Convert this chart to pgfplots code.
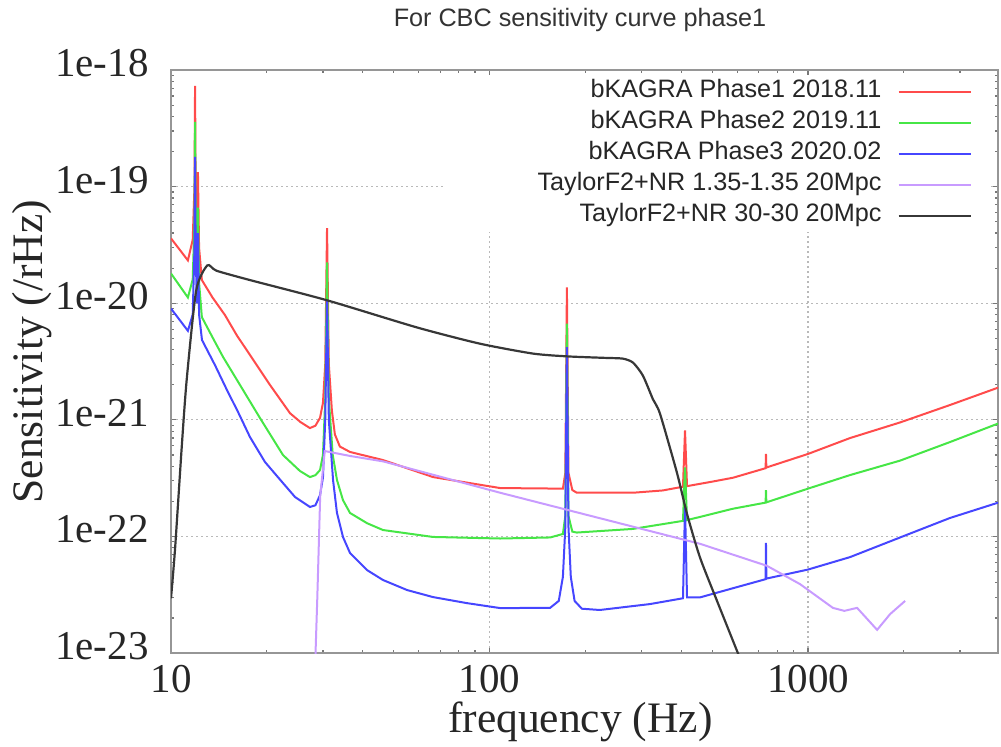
\documentclass[border=0pt]{standalone}
\usepackage{fontspec}
\setmainfont{Liberation Serif}
\newfontfamily\lsans{Liberation Sans}
\usepackage{pgfplots}
\pgfplotsset{compat=1.18}
\definecolor{cred}{RGB}{255,75,75}
\definecolor{cgreen}{RGB}{70,230,70}
\definecolor{cblue}{RGB}{70,70,255}
\definecolor{cpurple}{RGB}{200,155,255}
\definecolor{cblack}{RGB}{55,55,55}
\definecolor{cframe}{RGB}{150,150,150}
\begin{document}
\begin{tikzpicture}
\useasboundingbox (0,0) rectangle (500.5pt,373pt);
\begin{axis}[
  at={(85.5pt,46.5pt)}, anchor=south west,
  scale only axis, width=413.5pt, height=291.5pt,
  xmode=log, ymode=log,
  xmin=10, xmax=3950, ymin=1e-23, ymax=1e-18,
  xtick={10,100,1000}, xticklabels={10,100,1000},
  ytick={1e-23,1e-22,1e-21,1e-20,1e-19,1e-18},
  yticklabels={1e-23,1e-22,1e-21,1e-20,1e-19,1e-18},
  minor xtick={20,30,40,50,60,70,80,90,200,300,400,500,600,700,800,900,2000,3000},
  minor ytick={2e-23,3e-23,4e-23,5e-23,6e-23,7e-23,8e-23,9e-23,
               2e-22,3e-22,4e-22,5e-22,6e-22,7e-22,8e-22,9e-22,
               2e-21,3e-21,4e-21,5e-21,6e-21,7e-21,8e-21,9e-21,
               2e-20,3e-20,4e-20,5e-20,6e-20,7e-20,8e-20,9e-20,
               2e-19,3e-19,4e-19,5e-19,6e-19,7e-19,8e-19,9e-19},
  tick align=inside, major tick length=2.5pt, minor tick length=1.5pt,
  every tick/.style={cframe!80!black, line width=0.6pt},
  axis line style={cframe, line width=1.4pt},
  grid=major,
  major grid style={gray!55, dash pattern=on 1pt off 1.5pt, line width=0.6pt},
  tick label style={font=\fontsize{20.5}{24}\selectfont, text=black!85},
  yticklabel style={inner sep=0pt, xshift=-11pt, yshift=3.5pt},
  xticklabel style={inner sep=0pt, yshift=-5.75pt},
  xlabel={frequency (Hz)},
  ylabel={Sensitivity (/rHz)},
  xlabel style={at={(axis description cs:0.495,-0.118)}, anchor=center, font=\fontsize{21.75}{26}\selectfont, text=black!85},
  ylabel style={at={(axis description cs:-0.168,0.517)}, anchor=center, font=\fontsize{21.75}{26}\selectfont, text=black!85},
  title={For CBC sensitivity curve phase1},
  every axis title shift=0pt,
  every axis title/.style={at={(axis description cs:0.4946,1.0858)}, anchor=center, font=\lsans\fontsize{12.6}{15}\selectfont, text=black!80},
  legend plot pos=right,
  legend cell align=right,
  legend image code/.code={\draw[#1] (0pt,0pt) -- (36pt,0pt);},
  legend style={at={(rel axis cs:0.9686,0.989)}, anchor=north east,
    draw=none, fill=none, inner sep=0pt,
    font=\lsans\fontsize{12.6}{15}\selectfont, text=black!85,
    row sep=0pt, column sep=6pt,
    nodes={inner xsep=2pt, inner ysep=0pt, text height=10.5pt, text depth=5pt}},
]
\fill[white] (rel axis cs:0.331,0.722) rectangle (rel axis cs:0.992,0.99);

% bKAGRA Phase1
\addplot[cred, line width=1pt] coordinates {
(10,3.6e-20) (11.3,2.33e-20) (11.7,3.5e-20) (11.85,1e-19) (11.9,7.3e-19) (11.95,1e-19)
(12.05,4e-20) (12.15,1.33e-19) (12.25,3e-20) (12.5,1.58e-20) (13.5,1.12e-20) (14.77,7.92e-21)
(16.1,5.3e-21) (17.7,3.6e-21) (20.46,1.99e-21) (23.64,1.14e-21) (25.5,9.57e-22) (27.3,8.5e-22)
(28.4,8.9e-22) (29.37,1.04e-21) (30.0,1.4e-21) (30.5,3e-21) (30.9,4.4e-20) (31.3,3e-21)
(32.0,1.2e-21) (32.7,7.5e-22) (33.9,5.9e-22) (36.5,5.3e-22) (46.3,4.52e-22) (66.5,3.23e-22)
(108,2.6e-22) (170,2.57e-22) (173,3.5e-22) (175,1.37e-20) (177,3.5e-22) (182,2.5e-22)
(188,2.37e-22) (282,2.37e-22) (350,2.48e-22) (405,2.67e-22) (411,8.1e-22) (417,2.7e-22)
(500,2.95e-22) (582,3.19e-22) (736,3.85e-22) (738,5.1e-22) (740,3.9e-22) (1000,5.1e-22)
(1355,6.98e-22) (1946,9.5e-22) (2791,1.34e-21) (3955,1.89e-21)
};
\addlegendentry{bKAGRA Phase1 2018.11}

% bKAGRA Phase2
\addplot[cgreen, line width=1pt] coordinates {
(10,1.8e-20) (11.3,1.12e-20) (11.7,1.6e-20) (11.85,5e-20) (11.9,3.6e-19) (11.95,5e-20)
(12.05,2e-20) (12.15,6.6e-20) (12.25,1.5e-20) (12.5,7.6e-21) (13.5,5.1e-21) (14.57,3.46e-21)
(16.47,1.99e-21) (19.03,1.036e-21) (22.47,4.99e-22) (25.41,3.64e-22) (27.3,3.23e-22)
(28.4,3.35e-22) (29.37,3.71e-22) (30.0,5e-22) (30.5,1.5e-21) (30.9,2.24e-20) (31.3,1.5e-21)
(32.2,5e-22) (33.2,3.05e-22) (34.67,2.05e-22) (36.48,1.59e-22) (41.24,1.3e-22) (46.3,1.135e-22)
(66.45,9.9e-23) (108,9.6e-23) (155,9.8e-23) (170,1.05e-22) (173,1.5e-22) (175,6.7e-21)
(177,1.5e-22) (182,1.1e-22) (188,1.08e-22) (282,1.16e-22) (405,1.36e-22) (411,3.9e-22)
(417,1.38e-22) (582,1.73e-22) (736,1.95e-22) (738,2.5e-22) (740,1.96e-22) (1000,2.57e-22)
(1355,3.36e-22) (1946,4.47e-22) (2791,6.45e-22) (3955,9.3e-22)
};
\addlegendentry{bKAGRA Phase2 2019.11}

% bKAGRA Phase3
\addplot[cblue, line width=1pt] coordinates {
(10,9.0e-21) (11.3,5.8e-21) (11.7,8e-21) (11.85,3e-20) (11.9,1.8e-19) (11.95,3e-20)
(12.05,1e-20) (12.15,4e-20) (12.25,8e-21) (12.51,4.84e-21) (13.74,2.95e-21) (14.99,1.8e-21)
(16.23,1.17e-21) (17.7,7.12e-22) (19.73,4.35e-22) (22.47,2.87e-22) (24.51,2.18e-22)
(27.3,1.79e-22) (28.4,1.85e-22) (29.37,2.26e-22) (30.0,3.2e-22) (30.5,1e-21) (30.9,1.06e-20)
(31.3,1e-21) (32.27,3.05e-22) (33.2,1.59e-22) (34.67,9.9e-23) (36.48,7.21e-23) (41.24,5.15e-23)
(46.3,4.23e-23) (55.1,3.47e-23) (66.45,3.02e-23) (84.9,2.68e-23) (108,2.43e-23) (155,2.44e-23)
(165,2.8e-23) (170,4.5e-23) (173,1.2e-22) (175,4.2e-21) (177,1.2e-22) (180,4.5e-23)
(185,2.8e-23) (195,2.4e-23) (222,2.34e-23) (319,2.63e-23) (405,2.95e-23) (411,1.8e-22)
(417,3e-23) (458,3.0e-23) (582,3.6e-23) (736,4.3e-23) (738,8.8e-23) (740,4.35e-23)
(1000,5.2e-23) (1355,6.65e-23) (1946,9.8e-23) (2791,1.44e-22) (3955,1.95e-22)
};
\addlegendentry{bKAGRA Phase3 2020.02}

% TaylorF2+NR 1.35-1.35
\addplot[cpurple, line width=1pt] coordinates {
(28.2,5e-24) (28.8,3e-23) (29.4,2.2e-22) (30.4,5.4e-22) (36.5,4.9e-22) (46.4,4.4e-22)
(108,2.37e-22) (458,8.65e-23) (743,5.6e-23) (944,3.9e-23) (1197,2.44e-23) (1300,2.3e-23)
(1426,2.44e-23) (1648,1.58e-23) (1811,2.16e-23) (2018,2.8e-23)
};
\addlegendentry{TaylorF2+NR 1.35-1.35 20Mpc}

% TaylorF2+NR 30-30
\addplot[cblack, line width=1.1pt, smooth, tension=0.4] coordinates {
(10,2.95e-23) (10.3,7.9e-23) (10.8,5.7e-22) (11.2,2.2e-21) (12.0,1.29e-20) (13.0,2.11e-20)
(13.9,1.9e-20) (17.7,1.58e-20) (30.9,1.06e-20) (59.2,6.2e-21) (93.3,4.5e-21) (137,3.7e-21)
(176,3.5e-21) (230,3.4e-21) (262,3.35e-21) (282,3.1e-21) (303,2.4e-21) (326,1.5e-21)
(343,1.13e-21) (388,3.5e-22) (417,1.56e-22) (458,6.6e-23) (518,2.8e-23) (598,1.05e-23)
(650,6e-24)
};
\addlegendentry{TaylorF2+NR 30-30 20Mpc}
\end{axis}
\end{tikzpicture}
\end{document}
